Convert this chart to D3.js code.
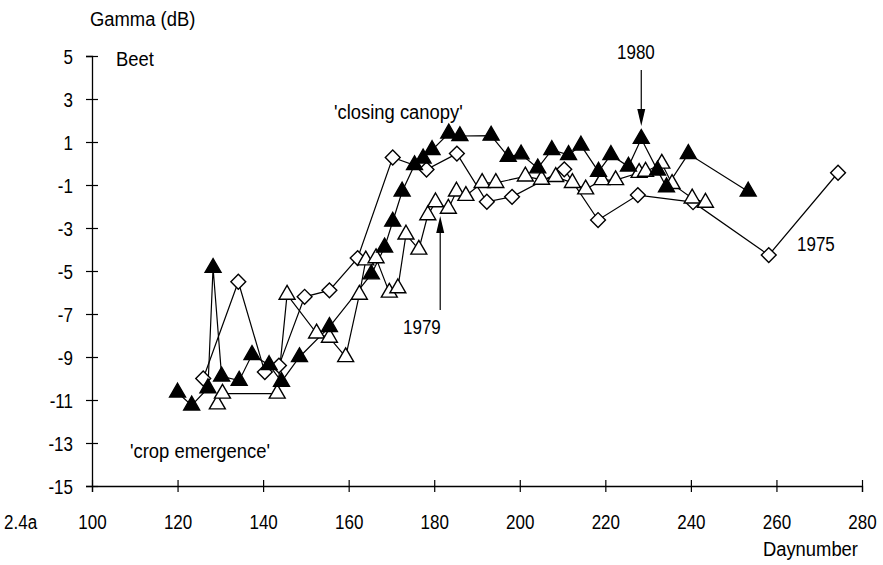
<!DOCTYPE html>
<html>
<head>
<meta charset="utf-8">
<script src="https://cdn.jsdelivr.net/npm/d3@7"></script>
<style>
  body { margin: 0; background: #fff; }
  svg { display: block; font-family: "Liberation Sans", Arial, sans-serif; }
</style>
</head>
<body>
<svg id="chart" width="883" height="565"></svg>
<script>
// 1980 - filled triangles
const day1980 = [120, 123.3, 127.1, 128.3, 130.3, 134.4, 137.4, 141.4, 144.3, 148.5, 155.5, 165.3, 168.4, 170.3, 172.5, 175.4, 177.4, 179.5, 183.4, 186, 193.3, 197.3, 200.3, 204.2, 207.5, 211.4, 214.3, 218.4, 221.3, 225.4, 228.4, 232.2, 234.3, 239.4, 253.4];
const gamma1980 = [-10.65, -11.25, -10.45, -4.85, -9.9, -10.1, -8.9, -9.37, -10.15, -9.0, -7.6, -5.15, -3.9, -2.7, -1.3, -0.07, 0.24, 0.63, 1.4, 1.28, 1.3, 0.32, 0.43, -0.22, 0.63, 0.4, 0.84, -0.38, 0.4, -0.14, 1.15, -0.32, -1.1, 0.45, -1.3];

// 1979 - open triangles
const day1979 = [129.3, 130.5, 143.3, 145.6, 152.5, 155.5, 159.3, 162.5, 164, 166.4, 169.5, 171.5, 173.4, 176.4, 178.5, 180.3, 183.3, 185.2, 187.4, 191.2, 194.4, 201.3, 205.1, 208.4, 212.3, 215.4, 219.2, 222.4, 227.9, 229.4, 233.2, 235.6, 240.3, 243.4];
const gamma1979 = [-11.2, -10.7, -10.7, -6.1, -7.9, -8.1, -9.0, -6.1, -4.5, -4.4, -6.0, -5.8, -3.3, -4.0, -2.4, -1.8, -2.1, -1.3, -1.5, -0.9, -0.9, -0.6, -0.75, -0.62, -0.9, -1.2, -0.77, -0.77, -0.43, -0.38, 0.0, -0.95, -1.62, -1.82];

// 1975 - open diamonds
const day1975 = [126, 134.2, 140.4, 143.7, 149.7, 155.5, 162.1, 170.3, 178.2, 185.3, 192.3, 198.2, 210.4, 218.3, 227.6, 240.5, 258.2, 274.4];
const gamma1975 = [-10.0, -5.5, -9.7, -9.4, -6.2, -5.9, -4.4, 0.28, -0.28, 0.46, -1.78, -1.55, -0.27, -2.63, -1.47, -1.8, -4.26, -0.43];

const xTicks = d3.range(100, 281, 20);
const yTicks = d3.range(-15, 6, 2);

const svg = d3.select("#chart");
const x = d3.scaleLinear().domain([100, 280]).range([92, 862]);
const y = d3.scaleLinear().domain([-15, 5]).range([486, 56]);

const FONT = 20;

// squeeze text horizontally to mimic the narrow typeface of the original
function condense(sel, k) {
  sel.each(function() {
    const w = this.getComputedTextLength();
    d3.select(this).attr("textLength", w * k).attr("lengthAdjust", "spacingAndGlyphs");
  });
}

// ── axes ───────────────────────────────
const yAxis = svg.append("g")
  .attr("transform", `translate(${x(100)},0)`)
  .call(d3.axisLeft(y).tickValues(yTicks).tickSize(6).tickPadding(13).tickFormat(d => String(d)));
const xAxis = svg.append("g")
  .attr("transform", `translate(0,${y(-15)})`)
  .call(d3.axisBottom(x).tickValues(xTicks).tickSize(6).tickFormat(d => String(d)));

[yAxis, xAxis].forEach(ax => {
  ax.select(".domain").attr("stroke", "#000").attr("stroke-width", 1.3);
  ax.selectAll(".tick line").attr("stroke", "#000").attr("stroke-width", 1.2);
  ax.selectAll("text").attr("fill", "#000").attr("font-size", FONT).attr("font-family", null);
  condense(ax.selectAll("text"), 0.85);
});
// ticks cross the axis line
yAxis.selectAll(".tick line").attr("x1", -6).attr("x2", 6);
xAxis.selectAll(".tick line").attr("y1", -6).attr("y2", 6);
yAxis.selectAll(".tick text").attr("dy", "0.36em");
xAxis.selectAll(".tick text").attr("y", 43).attr("dy", null);

// ── series ─────────────────────────────
const line = d3.line().x(d => x(d[0])).y(d => y(d[1]));
const triangle = d3.symbol().type(d3.symbolTriangle).size(110);
const square = d3.symbol().type(d3.symbolSquare).size(110);

const series = [
  { days: day1975, vals: gamma1975, shape: "diamond", fill: "#fff" },
  { days: day1979, vals: gamma1979, shape: "triangle", fill: "#fff" },
  { days: day1980, vals: gamma1980, shape: "triangle", fill: "#000" },
];

series.forEach(s => {
  const pts = s.days.map((d, i) => [d, s.vals[i]]);
  svg.append("path")
    .datum(pts)
    .attr("d", line)
    .attr("fill", "none")
    .attr("stroke", "#000")
    .attr("stroke-width", 1.2);
});

series.forEach(s => {
  const pts = s.days.map((d, i) => [d, s.vals[i]]);
  svg.append("g").selectAll("path")
    .data(pts)
    .join("path")
    .attr("d", s.shape === "diamond" ? square : triangle)
    .attr("transform", d => `translate(${x(d[0])},${y(d[1])})` + (s.shape === "diamond" ? " rotate(45)" : ""))
    .attr("fill", s.fill)
    .attr("stroke", "#000")
    .attr("stroke-width", 1.4);
});

// ── annotations ────────────────────────
function label(txt, px, py, anchor, k) {
  const t = svg.append("text")
    .attr("x", px).attr("y", py)
    .attr("text-anchor", anchor || "start")
    .attr("font-size", FONT)
    .attr("fill", "#000")
    .text(txt);
  condense(t, k || 0.92);
}
label("Gamma (dB)", 90, 26);
label("Beet", 116, 66);
label("'closing canopy'", 334, 119);
label("'crop emergence'", 130, 458);
label("1980", 617, 59, "start", 0.85);
label("1979", 403, 334, "start", 0.85);
label("1975", 797, 251, "start", 0.85);
label("2.4a", 4, 529, "start", 0.85);
label("Daynumber", 858, 556, "end");

// arrows
function arrow(px, yFrom, yTo) {
  const dir = yTo > yFrom ? 1 : -1;
  svg.append("line")
    .attr("x1", px).attr("x2", px)
    .attr("y1", yFrom).attr("y2", yTo - dir * 14)
    .attr("stroke", "#000").attr("stroke-width", 1.2);
  svg.append("path")
    .attr("d", `M${px - 4},${yTo - dir * 17} L${px + 4},${yTo - dir * 17} L${px},${yTo} Z`)
    .attr("fill", "#000");
}
arrow(x(228.4), 70, 126);
arrow(x(181.4), 310, 216);
</script>
</body>
</html>
